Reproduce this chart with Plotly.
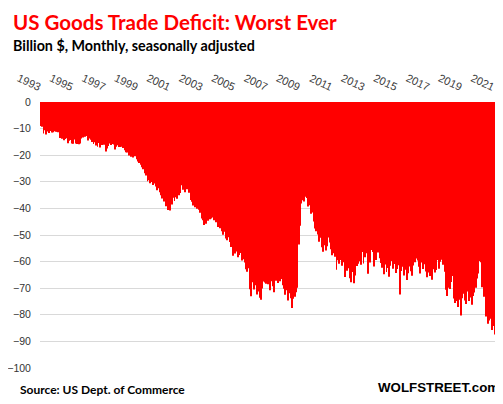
import plotly.graph_objects as go

start_year = 1993
# Monthly US goods trade deficit, billion $ (Jan 1993 - Mar 2021)
y1993 = [-9.0, -9.3, -11.8, -10.6, -12.2, -11.1, -11.7, -10.9, -11.5, -11.4, -11.0, -11.2]
y1994 = [-11.1, -11.4, -13.5, -13.1, -13.8, -14.4, -13.9, -13.6, -15.5, -14.6, -14.3, -15.6]
y1995 = [-15.7, -14.1, -15.6, -15.8, -15.9, -15.6, -13.7, -13.3, -12.9, -13.1, -12.8, -14.5]
y1996 = [-13.7, -14.2, -15.0, -15.8, -15.1, -16.4, -16.8, -15.4, -17.1, -16.2, -15.7, -16.1]
y1997 = [-18.6, -17.5, -16.5, -15.6, -16.2, -15.8, -16.0, -17.9, -16.8, -16.3, -16.9, -16.9]
y1998 = [-16.8, -17.3, -18.1, -18.9, -19.0, -20.1, -19.5, -20.6, -20.9, -19.8, -20.4, -21.5]
y1999 = [-22.4, -22.9, -23.6, -24.5, -25.3, -26.8, -27.6, -29.8, -29.4, -30.5, -30.1, -31.2]
y2000 = [-30.6, -31.8, -33.2, -32.4, -33.9, -35.1, -36.3, -37.4, -36.8, -39.2, -40.6, -39.8]
y2001 = [-40.8, -38.5, -36.0, -37.2, -35.8, -36.4, -35.1, -34.2, -31.3, -33.0, -32.4, -33.9]
y2002 = [-32.8, -30.6, -34.1, -36.8, -37.5, -38.9, -39.6, -38.2, -40.1, -40.5, -41.6, -43.8]
y2003 = [-44.5, -46.2, -45.8, -43.9, -44.6, -44.1, -43.8, -43.4, -44.5, -43.9, -45.2, -47.0]
y2004 = [-46.3, -47.5, -48.6, -49.9, -48.8, -51.3, -52.0, -50.8, -52.6, -54.5, -57.8, -56.3]
y2005 = [-57.0, -56.2, -58.4, -57.5, -56.8, -59.6, -59.1, -60.3, -62.9, -63.8, -62.5, -70.4]
y2006 = [-73.0, -67.8, -70.5, -68.9, -72.4, -71.2, -73.6, -74.3, -70.1, -67.5, -67.9, -68.3]
y2007 = [-68.5, -66.9, -70.8, -67.4, -69.3, -71.5, -67.2, -66.8, -68.0, -67.4, -66.5, -68.9]
y2008 = [-70.2, -72.5, -70.8, -74.6, -71.9, -73.8, -77.4, -74.0, -73.2, -71.5, -69.8, -53.6]
y2009 = [-46.5, -38.2, -36.9, -37.4, -35.6, -36.1, -39.3, -38.8, -42.0, -41.5, -44.9, -47.6]
y2010 = [-48.6, -49.8, -52.5, -51.0, -54.6, -56.3, -53.9, -55.8, -54.2, -50.9, -52.8, -55.4]
y2011 = [-57.6, -56.9, -58.2, -63.1, -59.5, -60.8, -59.4, -61.6, -60.2, -65.8, -62.7, -63.4]
y2012 = [-62.5, -66.3, -67.8, -63.9, -68.1, -65.2, -61.7, -60.8, -59.9, -61.2, -56.4, -60.7]
y2013 = [-58.4, -56.9, -64.6, -57.2, -60.3, -55.6, -56.4, -61.8, -59.4, -55.1, -56.6, -58.7]
y2014 = [-60.5, -62.3, -64.8, -61.1, -63.9, -62.4, -65.7, -61.6, -59.8, -62.7, -60.9, -64.3]
y2015 = [-62.8, -61.4, -72.4, -63.5, -61.9, -65.2, -63.1, -66.9, -64.4, -61.8, -63.6, -65.3]
y2016 = [-61.5, -60.2, -58.8, -59.6, -61.9, -64.5, -60.3, -62.8, -61.0, -63.7, -65.9, -64.1]
y2017 = [-65.4, -63.6, -66.8, -62.9, -64.1, -63.2, -59.4, -62.7, -60.1, -59.3, -61.2, -63.8]
y2018 = [-70.6, -72.9, -69.8, -70.3, -67.7, -65.4, -73.9, -75.6, -74.8, -77.1, -74.3, -80.3]
y2019 = [-73.8, -72.1, -74.6, -75.9, -71.2, -74.8, -73.5, -76.2, -72.9, -71.6, -69.8, -66.4]
y2020 = [-64.5, -59.8, -60.2, -69.6, -73.2, -72.5, -80.6, -83.4, -82.1, -81.5, -85.7, -84.2]
y2021 = [-87.4, -88.6, -91.6]

year_series = [y1993, y1994, y1995, y1996, y1997, y1998, y1999, y2000, y2001, y2002,
               y2003, y2004, y2005, y2006, y2007, y2008, y2009, y2010, y2011, y2012,
               y2013, y2014, y2015, y2016, y2017, y2018, y2019, y2020, y2021]

values = [v for yr in year_series for v in yr]
month_index = list(range(len(values)))

tick_years = list(range(1993, 2022, 2))
tick_vals = [(yr - start_year) * 12 for yr in tick_years]
tick_text = [str(yr) for yr in tick_years]

y_ticks = [0, -10, -20, -30, -40, -50, -60, -70, -80, -90, -100]

# The page body adds an 8px margin, so the figure is sized to the visible window.
OFF = 8
W, H = 503 - OFF, 404 - OFF
pl, pt = 40 - OFF, 102 - OFF
pr, pb = W - (498 - OFF), H - (368 - OFF)
pw, ph = W - pl - pr, H - pt - pb


def px_x(x):  # window pixel -> paper fraction
    return (x - OFF - pl) / pw


def px_y(y):
    return (H - pb - (y - OFF)) / ph


fig = go.Figure()
fig.add_trace(go.Bar(
    x=month_index, y=values,
    marker=dict(color="#FF0000", line=dict(width=0)),
    hoverinfo="skip",
))

fig.update_layout(
    width=W, height=H, autosize=False,
    margin=dict(l=pl, r=pr, t=pt, b=pb, pad=0, autoexpand=False),
    paper_bgcolor="white", plot_bgcolor="white",
    showlegend=False,
    bargap=0.3,
    font=dict(family="Liberation Sans, Arial, sans-serif", color="#333333"),
    xaxis=dict(
        range=[-0.6, len(values) - 0.4],
        side="top", automargin=False,
        tickmode="array", tickvals=tick_vals, ticktext=tick_text,
        tickangle=25,
        tickfont=dict(size=11, color="#404040"),
        showgrid=False, zeroline=False, showline=False,
        ticks="outside", ticklen=5, tickcolor="rgba(0,0,0,0)",
    ),
    yaxis=dict(
        range=[-100, 0], automargin=False,
        tickmode="array", tickvals=y_ticks,
        tickfont=dict(size=10.5, color="#333333"),
        showgrid=True, gridcolor="#D9D9D9", gridwidth=1,
        zeroline=False, showline=False,
        ticks="outside", ticklen=6, tickcolor="rgba(0,0,0,0)",
    ),
)

fig.add_annotation(text="<b>US Goods Trade Deficit: Worst Ever</b>",
                   x=px_x(11), y=px_y(22), xref="paper", yref="paper",
                   xanchor="left", yanchor="middle", showarrow=False,
                   font=dict(family="Lato, sans-serif", size=20.5, color="#FF0000"))
fig.add_annotation(text="<b>Billion $, Monthly, seasonally adjusted</b>",
                   x=px_x(11), y=px_y(45), xref="paper", yref="paper",
                   xanchor="left", yanchor="middle", showarrow=False,
                   font=dict(family="Lato, sans-serif", size=14.3, color="#000000"))
fig.add_annotation(text="<b>Source: US Dept. of Commerce</b>",
                   x=px_x(18), y=px_y(389), xref="paper", yref="paper",
                   xanchor="left", yanchor="middle", showarrow=False,
                   font=dict(family="Lato, sans-serif", size=12, color="#000000"))
fig.add_annotation(text="<b>WOLFSTREET.com</b>",
                   x=px_x(501), y=px_y(387), xref="paper", yref="paper",
                   xanchor="right", yanchor="middle", showarrow=False,
                   font=dict(family="Liberation Sans, Arial, sans-serif", size=13.3, color="#000000"))

fig.write_html("out.html")
